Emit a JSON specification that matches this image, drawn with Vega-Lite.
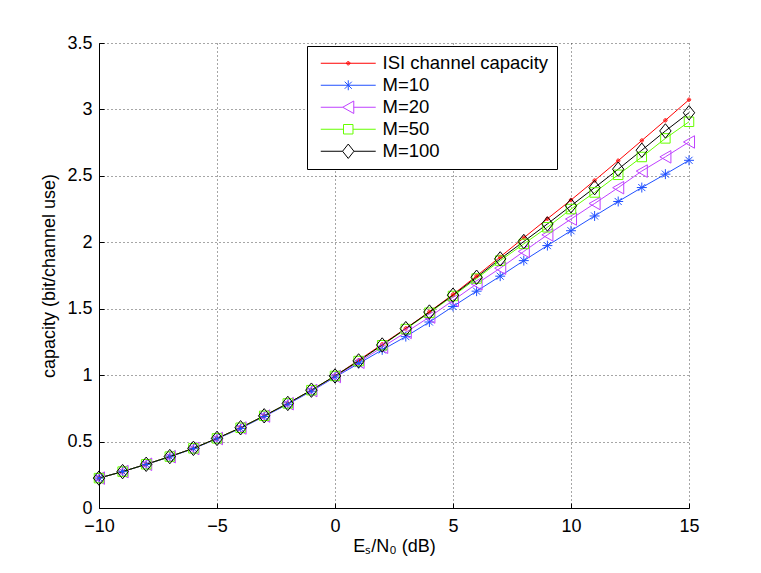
{
  "$schema": "https://vega.github.io/schema/vega-lite/v6.json",
  "width": 590,
  "height": 465,
  "autosize": {"type": "none"},
  "padding": {"left": 99, "top": 43, "right": 72, "bottom": 65},
  "background": "white",
  "config": {
    "font": "Liberation Sans",
    "view": {"stroke": null},
    "axis": {
      "domainColor": "black",
      "grid": true,
      "gridColor": "black",
      "gridDash": [1, 3],
      "gridOpacity": 0.7,
      "gridWidth": 1,
      "tickColor": "black",
      "tickSize": -5,
      "labelColor": "black",
      "labelFontSize": 18,
      "labelFont": "Liberation Sans",
      "labelFlush": false,
      "titleColor": "black",
      "titleFontSize": 18,
      "titleFontWeight": "normal",
      "titleFont": "Liberation Sans"
    }
  },
  "data": {
    "values": [
      {"s": "ISI channel capacity", "x": -10, "y": 0.225}, {"s": "ISI channel capacity", "x": -9, "y": 0.274}, {"s": "ISI channel capacity", "x": -8, "y": 0.329}, {"s": "ISI channel capacity", "x": -7, "y": 0.387}, {"s": "ISI channel capacity", "x": -6, "y": 0.449},
      {"s": "ISI channel capacity", "x": -5, "y": 0.524}, {"s": "ISI channel capacity", "x": -4, "y": 0.604}, {"s": "ISI channel capacity", "x": -3, "y": 0.694}, {"s": "ISI channel capacity", "x": -2, "y": 0.787}, {"s": "ISI channel capacity", "x": -1, "y": 0.887},
      {"s": "ISI channel capacity", "x": 0, "y": 0.994}, {"s": "ISI channel capacity", "x": 1, "y": 1.112}, {"s": "ISI channel capacity", "x": 2, "y": 1.232}, {"s": "ISI channel capacity", "x": 3, "y": 1.352}, {"s": "ISI channel capacity", "x": 4, "y": 1.477},
      {"s": "ISI channel capacity", "x": 5, "y": 1.607}, {"s": "ISI channel capacity", "x": 6, "y": 1.747}, {"s": "ISI channel capacity", "x": 7, "y": 1.89}, {"s": "ISI channel capacity", "x": 8, "y": 2.034}, {"s": "ISI channel capacity", "x": 9, "y": 2.177},
      {"s": "ISI channel capacity", "x": 10, "y": 2.318}, {"s": "ISI channel capacity", "x": 11, "y": 2.465}, {"s": "ISI channel capacity", "x": 12, "y": 2.614}, {"s": "ISI channel capacity", "x": 13, "y": 2.766}, {"s": "ISI channel capacity", "x": 14, "y": 2.918},
      {"s": "ISI channel capacity", "x": 15, "y": 3.073},
      {"s": "M=10", "x": -10, "y": 0.225}, {"s": "M=10", "x": -9, "y": 0.274}, {"s": "M=10", "x": -8, "y": 0.328}, {"s": "M=10", "x": -7, "y": 0.385}, {"s": "M=10", "x": -6, "y": 0.447},
      {"s": "M=10", "x": -5, "y": 0.521}, {"s": "M=10", "x": -4, "y": 0.599}, {"s": "M=10", "x": -3, "y": 0.689}, {"s": "M=10", "x": -2, "y": 0.781}, {"s": "M=10", "x": -1, "y": 0.879},
      {"s": "M=10", "x": 0, "y": 0.985}, {"s": "M=10", "x": 1, "y": 1.087}, {"s": "M=10", "x": 2, "y": 1.19}, {"s": "M=10", "x": 3, "y": 1.29}, {"s": "M=10", "x": 4, "y": 1.4},
      {"s": "M=10", "x": 5, "y": 1.517}, {"s": "M=10", "x": 6, "y": 1.632}, {"s": "M=10", "x": 7, "y": 1.745}, {"s": "M=10", "x": 8, "y": 1.862}, {"s": "M=10", "x": 9, "y": 1.975},
      {"s": "M=10", "x": 10, "y": 2.087}, {"s": "M=10", "x": 11, "y": 2.198}, {"s": "M=10", "x": 12, "y": 2.307}, {"s": "M=10", "x": 13, "y": 2.412}, {"s": "M=10", "x": 14, "y": 2.513},
      {"s": "M=10", "x": 15, "y": 2.617},
      {"s": "M=20", "x": -10, "y": 0.225}, {"s": "M=20", "x": -9, "y": 0.274}, {"s": "M=20", "x": -8, "y": 0.329}, {"s": "M=20", "x": -7, "y": 0.386}, {"s": "M=20", "x": -6, "y": 0.448},
      {"s": "M=20", "x": -5, "y": 0.523}, {"s": "M=20", "x": -4, "y": 0.602}, {"s": "M=20", "x": -3, "y": 0.692}, {"s": "M=20", "x": -2, "y": 0.785}, {"s": "M=20", "x": -1, "y": 0.884},
      {"s": "M=20", "x": 0, "y": 0.99}, {"s": "M=20", "x": 1, "y": 1.097}, {"s": "M=20", "x": 2, "y": 1.21}, {"s": "M=20", "x": 3, "y": 1.322}, {"s": "M=20", "x": 4, "y": 1.437},
      {"s": "M=20", "x": 5, "y": 1.562}, {"s": "M=20", "x": 6, "y": 1.687}, {"s": "M=20", "x": 7, "y": 1.805}, {"s": "M=20", "x": 8, "y": 1.931}, {"s": "M=20", "x": 9, "y": 2.056},
      {"s": "M=20", "x": 10, "y": 2.175}, {"s": "M=20", "x": 11, "y": 2.292}, {"s": "M=20", "x": 12, "y": 2.411}, {"s": "M=20", "x": 13, "y": 2.536}, {"s": "M=20", "x": 14, "y": 2.643},
      {"s": "M=20", "x": 15, "y": 2.755},
      {"s": "M=50", "x": -10, "y": 0.225}, {"s": "M=50", "x": -9, "y": 0.274}, {"s": "M=50", "x": -8, "y": 0.329}, {"s": "M=50", "x": -7, "y": 0.387}, {"s": "M=50", "x": -6, "y": 0.449},
      {"s": "M=50", "x": -5, "y": 0.524}, {"s": "M=50", "x": -4, "y": 0.604}, {"s": "M=50", "x": -3, "y": 0.694}, {"s": "M=50", "x": -2, "y": 0.787}, {"s": "M=50", "x": -1, "y": 0.887},
      {"s": "M=50", "x": 0, "y": 0.994}, {"s": "M=50", "x": 1, "y": 1.106}, {"s": "M=50", "x": 2, "y": 1.225}, {"s": "M=50", "x": 3, "y": 1.347}, {"s": "M=50", "x": 4, "y": 1.47},
      {"s": "M=50", "x": 5, "y": 1.596}, {"s": "M=50", "x": 6, "y": 1.727}, {"s": "M=50", "x": 7, "y": 1.862}, {"s": "M=50", "x": 8, "y": 1.988}, {"s": "M=50", "x": 9, "y": 2.113},
      {"s": "M=50", "x": 10, "y": 2.25}, {"s": "M=50", "x": 11, "y": 2.375}, {"s": "M=50", "x": 12, "y": 2.508}, {"s": "M=50", "x": 13, "y": 2.642}, {"s": "M=50", "x": 14, "y": 2.782},
      {"s": "M=50", "x": 15, "y": 2.907},
      {"s": "M=100", "x": -10, "y": 0.225}, {"s": "M=100", "x": -9, "y": 0.274}, {"s": "M=100", "x": -8, "y": 0.329}, {"s": "M=100", "x": -7, "y": 0.387}, {"s": "M=100", "x": -6, "y": 0.449},
      {"s": "M=100", "x": -5, "y": 0.524}, {"s": "M=100", "x": -4, "y": 0.604}, {"s": "M=100", "x": -3, "y": 0.694}, {"s": "M=100", "x": -2, "y": 0.787}, {"s": "M=100", "x": -1, "y": 0.887},
      {"s": "M=100", "x": 0, "y": 0.994}, {"s": "M=100", "x": 1, "y": 1.107}, {"s": "M=100", "x": 2, "y": 1.227}, {"s": "M=100", "x": 3, "y": 1.35}, {"s": "M=100", "x": 4, "y": 1.475},
      {"s": "M=100", "x": 5, "y": 1.602}, {"s": "M=100", "x": 6, "y": 1.737}, {"s": "M=100", "x": 7, "y": 1.875}, {"s": "M=100", "x": 8, "y": 2.006}, {"s": "M=100", "x": 9, "y": 2.138},
      {"s": "M=100", "x": 10, "y": 2.275}, {"s": "M=100", "x": 11, "y": 2.411}, {"s": "M=100", "x": 12, "y": 2.55}, {"s": "M=100", "x": 13, "y": 2.693}, {"s": "M=100", "x": 14, "y": 2.838},
      {"s": "M=100", "x": 15, "y": 2.975}
    ]
  },
  "encoding": {
    "x": {
      "field": "x",
      "type": "quantitative",
      "scale": {"domain": [-10, 15], "nice": false, "zero": false},
      "axis": {"values": [-10, -5, 0, 5, 10, 15], "format": "~g", "labelPadding": 14, "title": "Eₛ/N₀ (dB)", "titlePadding": 2}
    },
    "y": {
      "field": "y",
      "type": "quantitative",
      "scale": {"domain": [0, 3.5], "nice": false},
      "axis": {"values": [0, 0.5, 1, 1.5, 2, 2.5, 3, 3.5], "format": "~g", "labelPadding": 12, "title": "capacity (bit/channel use)", "titlePadding": 8}
    }
  },
  "layer": [
    {
      "mark": {"type": "line", "strokeWidth": 1, "clip": false},
      "encoding": {
        "color": {
          "field": "s", "type": "nominal", "legend": null,
          "scale": {"domain": ["ISI channel capacity", "M=10", "M=20", "M=50", "M=100"], "range": ["#ff0000", "#2050ff", "#bf40ff", "#66ff00", "#000000"]}
        }
      }
    },
    {
      "mark": {"type": "point", "filled": false, "opacity": 1, "size": 144, "strokeWidth": 1, "clip": false},
      "encoding": {
        "color": {
          "field": "s", "type": "nominal", "legend": null,
          "scale": {"domain": ["ISI channel capacity", "M=10", "M=20", "M=50", "M=100"], "range": ["#ff0000", "#2050ff", "#bf40ff", "#66ff00", "#000000"]}
        },
        "shape": {
          "field": "s", "type": "nominal", "legend": null,
          "scale": {
            "domain": ["ISI channel capacity", "M=10", "M=20", "M=50", "M=100"],
            "range": [
              "M0.28,0A0.28,0.28,0,1,1,-0.28,0A0.28,0.28,0,1,1,0.28,0ZM0.1,0A0.1,0.1,0,1,1,-0.1,0A0.1,0.1,0,1,1,0.1,0Z",
              "M-0.83,0L0.83,0M0,-0.83L0,0.83M-0.59,-0.59L0.59,0.59M-0.59,0.59L0.59,-0.59",
              "M-0.92,0L0.92,-1.04L0.92,1.04Z",
              "M-0.79,-0.79L0.79,-0.79L0.79,0.79L-0.79,0.79Z",
              "M0,-1.2L0.95,0L0,1.2L-0.95,0Z"
            ]
          }
        }
      }
    },
    {
      "mark": {"type": "point", "filled": false, "opacity": 0, "size": 144, "strokeWidth": 1},
      "encoding": {
        "color": {
          "field": "s", "type": "nominal", "title": null,
          "scale": {"domain": ["ISI channel capacity", "M=10", "M=20", "M=50", "M=100"], "range": ["#ff0000", "#2050ff", "#bf40ff", "#66ff00", "#000000"]},
          "legend": {"orient": "none", "legendX": 208, "legendY": 3, "padding": 8, "strokeColor": "black", "fillColor": "white", "labelFontSize": 18.5, "labelColor": "black", "labelLimit": 0, "labelOffset": 49, "rowPadding": 3, "symbolOpacity": 1, "symbolStrokeWidth": 1, "symbolSize": 144}
        },
        "shape": {
          "field": "s", "type": "nominal", "title": null,
          "scale": {
            "domain": ["ISI channel capacity", "M=10", "M=20", "M=50", "M=100"],
            "range": [
              "M-0.58,0L8.58,0M4.28,0A0.28,0.28,0,1,1,3.72,0A0.28,0.28,0,1,1,4.28,0ZM4.1,0A0.1,0.1,0,1,1,3.9,0A0.1,0.1,0,1,1,4.1,0Z",
              "M-0.58,0L8.58,0M4,-0.83L4,0.83M3.41,-0.59L4.59,0.59M3.41,0.59L4.59,-0.59",
              "M-0.58,0L3.08,0M4.92,0L8.58,0M3.08,0L4.92,-1.04L4.92,1.04Z",
              "M-0.58,0L3.21,0M4.79,0L8.58,0M3.21,-0.79L4.79,-0.79L4.79,0.79L3.21,0.79Z",
              "M-0.58,0L3.05,0M4.95,0L8.58,0M4,-1.2L4.95,0L4,1.2L3.05,0Z"
            ]
          },
          "legend": {"orient": "none", "legendX": 208, "legendY": 3, "padding": 8, "strokeColor": "black", "fillColor": "white", "labelFontSize": 18.5, "labelColor": "black", "labelLimit": 0, "labelOffset": 49, "rowPadding": 3, "symbolOpacity": 1, "symbolStrokeWidth": 1, "symbolSize": 144}
        }
      }
    }
  ],
  "resolve": {"scale": {"color": "independent", "shape": "independent"}}
}
